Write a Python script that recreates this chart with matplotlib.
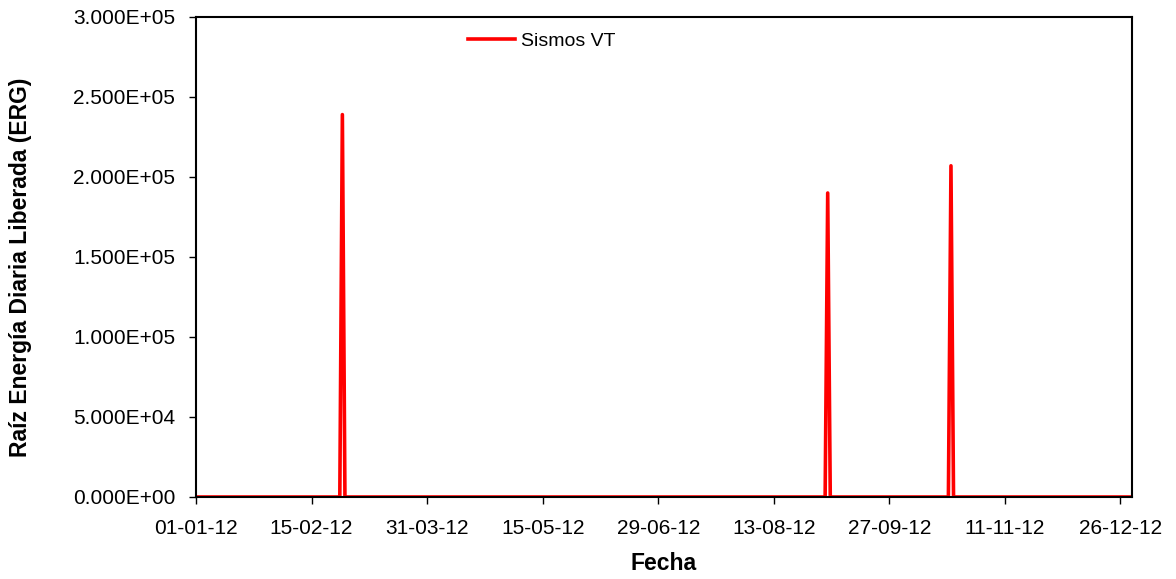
import numpy as np
import pandas as pd
import matplotlib
matplotlib.use("Agg")
import matplotlib.pyplot as plt
import matplotlib.dates as mdates
from matplotlib.ticker import FuncFormatter

# Eventos VT (raiz de energia diaria, ERG); el resto de dias = 0
fechas_evento = ["2012-02-27", "2012-09-03", "2012-10-21"]
energia_evento = [2.39e5, 1.90e5, 2.07e5]

inicio, fin = "2012-01-01", "2012-12-31"
tick_fechas = ["2012-01-01", "2012-02-15", "2012-03-31", "2012-05-15", "2012-06-29",
               "2012-08-13", "2012-09-27", "2012-11-11", "2012-12-26"]

dias = pd.date_range(inicio, fin, freq="D")
serie = pd.Series(0.0, index=dias)
serie.loc[pd.to_datetime(fechas_evento)] = energia_evento

plt.rcParams["font.family"] = ["Liberation Sans", "DejaVu Sans"]

fig = plt.figure(figsize=(11.76, 5.79), dpi=100)
ax = fig.add_axes([196 / 1176, 1 - 497 / 579, (1132 - 196) / 1176, (497 - 17) / 579])

ax.plot(serie.index, serie.values, color="#ff0000", linewidth=2.6, label="Sismos VT")

ax.set_xlim(pd.Timestamp(inicio), pd.Timestamp("2012-12-30 12:00"))
ax.set_ylim(0, 3.0e5)
ax.set_yticks(np.arange(0, 3.01e5, 5e4))
ax.yaxis.set_major_formatter(FuncFormatter(lambda v, p: f"{v:.3E}"))
ax.set_xticks(pd.to_datetime(tick_fechas))
ax.xaxis.set_major_formatter(mdates.DateFormatter("%d-%m-%y"))

ax.tick_params(axis="both", direction="out", length=5, width=1, colors="black")
ax.tick_params(axis="y", labelsize=15, pad=10)
ax.tick_params(axis="x", labelsize=15, pad=11)
for s in ax.spines.values():
    s.set_linewidth(1.5)

ax.set_xlabel("Fecha", fontsize=16.5, fontweight="bold", labelpad=10)
ax.set_ylabel("Raíz Energía Diaria Liberada (ERG)", fontsize=16.5, fontweight="bold")
ax.yaxis.set_label_coords(-0.175, 0.478)

ax.legend(loc="upper left", bbox_to_anchor=(0.272, 1.005), frameon=False, fontsize=14,
          handlelength=2.4, handletextpad=0.3)

fig.savefig("out.png", dpi=100)
